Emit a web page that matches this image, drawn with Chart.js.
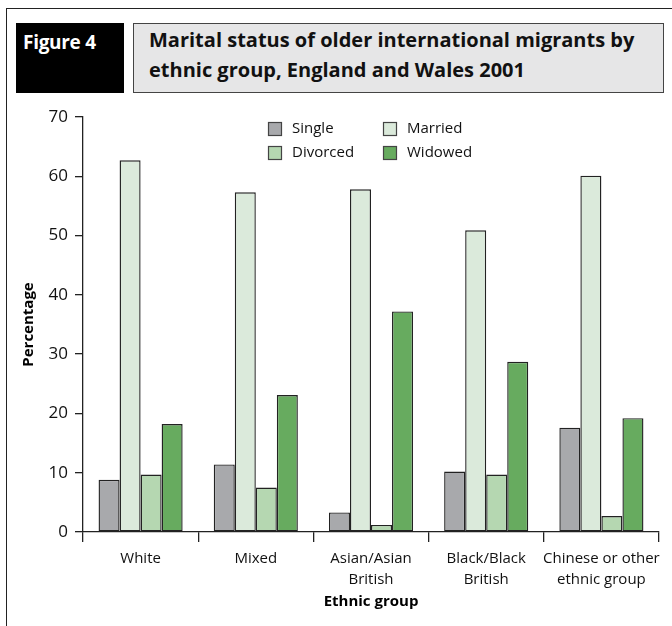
<!DOCTYPE html>
<html>
<head>
<meta charset="utf-8">
<script src="https://cdn.jsdelivr.net/npm/chart.js@4.4.1/dist/chart.umd.min.js"></script>
<style>
  body { margin: 0; background: #fff; }
  #page { position: relative; width: 672px; height: 626px; overflow: hidden; font-family: "Open Sans", sans-serif; }
  #frame-top { position: absolute; left: 6px; top: 8px; width: 670px; height: 0; border-top: 1.5px solid #222; }
  #frame-left { position: absolute; left: 6px; top: 8px; width: 0; height: 620px; border-left: 1.5px solid #222; }
  #fig { position: absolute; left: 16px; top: 23px; width: 108px; height: 70px; background: #000; color: #fff;
         font-weight: bold; font-size: 19px; box-sizing: border-box; padding: 6px 0 0 7px; letter-spacing: -0.3px; }
  #title { position: absolute; left: 133px; top: 23px; width: 531px; height: 70px; background: #e6e6e7;
           border: 1.5px solid #444; box-sizing: border-box; color: #111; font-weight: bold; font-size: 20px;
           line-height: 30px; padding: 1px 0 0 15px; }
  #chart { position: absolute; left: 0; top: 0; }
</style>
</head>
<body>
<div id="page">
  <canvas id="chart" width="672" height="626"></canvas>
  <div id="frame-top"></div>
  <div id="frame-left"></div>
  <div id="fig">Figure 4</div>
  <div id="title">Marital status of older international migrants by<br>ethnic group, England and Wales 2001</div>
</div>
<script>
// data (percent)
var categories = ["White", "Mixed", ["Asian/Asian", "British"], ["Black/Black", "British"], ["Chinese or other", "ethnic group"]];
var single = [8.8, 11.4, 3.3, 10.2, 17.6];
var married = [62.7, 57.3, 57.8, 50.9, 60.1];
var divorced = [9.7, 7.5, 1.2, 9.7, 2.7];
var widowed = [18.2, 23.1, 37.2, 28.7, 19.2];
var seriesNames = ["Single", "Married", "Divorced", "Widowed"];
var seriesColors = ["#a8a9ac", "#dbeadb", "#b5d7b1", "#67ab5f"];

var font = "'Open Sans', sans-serif";

// 2x2 legend drawn inside the plot area
var boxLegend = {
    id: "boxLegend",
    afterDraw: function(chart) {
        var ctx = chart.ctx;
        var area = chart.chartArea;
        var cols = [185, 300];
        var rows = [5, 29];
        ctx.save();
        ctx.font = "15px " + font;
        ctx.textBaseline = "middle";
        ctx.textAlign = "left";
        for (var i = 0; i < chart.data.datasets.length; i++) {
            var ds = chart.data.datasets[i];
            var x = area.left + cols[i % 2];
            var y = area.top + rows[Math.floor(i / 2)];
            ctx.fillStyle = ds.backgroundColor;
            ctx.fillRect(x, y, 14, 14);
            ctx.strokeStyle = "#444";
            ctx.lineWidth = 1.2;
            ctx.strokeRect(x + 0.5, y + 0.5, 13, 13);
            ctx.fillStyle = "#111";
            ctx.fillText(ds.label, x + 24, y + 7);
        }
        ctx.restore();
    }
};

var values = [single, married, divorced, widowed];
var datasets = [];
for (var i = 0; i < seriesNames.length; i++) {
    datasets.push({
        label: seriesNames[i],
        data: values[i],
        backgroundColor: seriesColors[i],
        borderColor: "#222",
        borderWidth: 1.4,
        borderSkipped: false,
        barPercentage: 1,
        categoryPercentage: 0.73
    });
}

var ctx = document.getElementById("chart").getContext("2d");
var myChart = new Chart(ctx, {
    type: "bar",
    data: { labels: categories, datasets: datasets },
    plugins: [boxLegend],
    options: {
        responsive: false,
        animation: false,
        layout: { padding: { top: 117, right: 13, bottom: 0, left: 0 } },
        plugins: { legend: { display: false }, tooltip: { enabled: false } },
        scales: {
            x: {
                afterFit: function(scale) { scale.height = 94; },
                grid: { display: true, drawOnChartArea: false, drawTicks: true, tickLength: 10, color: "#222", lineWidth: 1.3, offset: true },
                border: { display: true, color: "#222", width: 1.3 },
                ticks: { color: "#111", font: { family: font, size: 15, lineHeight: 1.4 }, padding: 6, maxRotation: 0, autoSkip: false },
                title: { display: true, text: "Ethnic group", color: "#000", font: { family: font, size: 15, weight: "bold" }, padding: { top: 0, bottom: 15 } }
            },
            y: {
                min: 0,
                max: 70,
                afterFit: function(scale) { scale.width = 83; },
                grid: { display: true, drawOnChartArea: false, drawTicks: true, tickLength: 8, color: "#222", lineWidth: 1.3 },
                border: { display: true, color: "#222", width: 1.3 },
                ticks: { stepSize: 10, color: "#111", font: { family: font, size: 17 }, padding: 7 },
                title: { display: true, text: "Percentage", color: "#000", font: { family: font, size: 15, weight: "bold" }, padding: { top: 20, bottom: 0 } }
            }
        }
    }
});
</script>
</body>
</html>
